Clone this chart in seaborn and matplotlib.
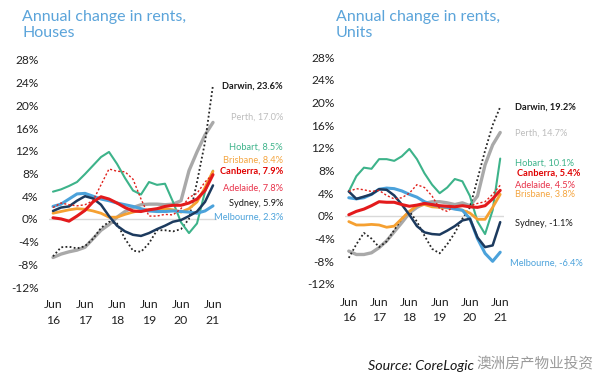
import seaborn as sns
import matplotlib.pyplot as plt
import pandas as pd

# months since Jun 2016, quarterly readings
months = list(range(0, 61, 3))
tick_months = [0, 12, 24, 36, 48, 60]
tick_labels = ['Jun\n16', 'Jun\n17', 'Jun\n18', 'Jun\n19', 'Jun\n20', 'Jun\n21']
y_ticks = list(range(-12, 29, 4))

# Houses, annual change in rents (%)
houses = {
    'Darwin':    [-6.6, -5.0, -4.9, -5.2, -4.8, -3.5, -1.6, -0.5, -0.8, -3.5, -5.6,
                  -5.8, -4.3, -2.0, -2.0, -2.2, -1.8, 0.0, 6.5, 13.5, 23.6],
    'Perth':     [-6.8, -6.2, -5.8, -5.5, -5.0, -3.5, -2.0, -1.0, 0.3, 1.3, 2.0,
                  2.5, 2.6, 2.6, 2.5, 2.6, 3.2, 8.5, 11.8, 14.8, 17.0],
    'Hobart':    [4.8, 5.2, 5.8, 6.5, 7.9, 9.4, 10.9, 11.8, 9.7, 7.2, 5.0,
                  4.3, 6.5, 6.0, 6.2, 3.0, -0.6, -2.5, -0.8, 4.8, 8.5],
    'Brisbane':  [1.0, 1.3, 1.6, 1.8, 1.7, 1.4, 1.0, 0.3, 0.3, 0.8, 1.2,
                  1.5, 1.6, 1.7, 1.8, 1.6, 1.2, 1.8, 3.0, 5.5, 8.4],
    'Canberra':  [2.0, 2.8, 2.5, 2.3, 2.5, 3.2, 6.0, 8.8, 8.4, 8.3, 7.0,
                  3.5, 0.5, 0.5, 0.8, 0.7, 1.8, 3.8, 4.5, 6.5, 7.9],
    'Adelaide':  [0.2, 0.0, -0.4, 0.5, 1.5, 3.0, 3.9, 3.5, 2.8, 2.0, 1.4,
                  1.3, 1.6, 1.8, 2.2, 2.4, 2.4, 2.8, 3.5, 5.0, 7.8],
    'Sydney':    [1.4, 2.0, 2.2, 3.2, 4.0, 3.6, 2.5, 0.5, -1.2, -2.2, -2.8,
                  -3.0, -2.5, -1.8, -1.2, -0.5, -0.2, 0.5, 1.3, 3.0, 5.9],
    'Melbourne': [2.2, 2.6, 3.5, 4.4, 4.5, 4.0, 3.5, 3.2, 2.8, 2.5, 2.2,
                  1.8, 1.4, 1.3, 1.3, 1.4, 1.3, 1.2, 1.0, 1.4, 2.3],
}

# Units, annual change in rents (%)
units = {
    'Darwin':    [-7.4, -5.0, -3.0, -4.0, -5.5, -4.5, -2.5, -0.5, 0.8, -1.0, -3.5,
                  -5.8, -6.6, -5.0, -3.0, -0.5, 1.5, 6.5, 11.5, 16.0, 19.2],
    'Perth':     [-6.2, -6.8, -6.8, -6.5, -5.6, -4.4, -2.8, -1.2, 0.5, 1.5, 2.2,
                  2.5, 2.5, 2.3, 2.0, 2.3, 1.8, 3.5, 9.0, 12.5, 14.7],
    'Hobart':    [4.3, 7.0, 8.5, 8.3, 10.0, 10.0, 9.7, 10.5, 11.8, 10.0, 7.5,
                  5.5, 4.0, 5.0, 6.5, 6.1, 3.5, -1.0, -3.2, 1.0, 10.1],
    'Brisbane':  [-1.0, -1.6, -1.6, -1.5, -1.6, -2.0, -1.8, -0.5, 0.8, 1.8, 2.0,
                  1.6, 1.5, 1.4, 1.3, 1.0, 0.5, -0.6, -0.6, 1.5, 3.8],
    'Canberra':  [4.3, 4.8, 4.6, 4.3, 4.5, 3.6, 3.0, 3.2, 4.0, 5.5, 5.0,
                  3.5, 1.3, 0.8, 1.8, 1.7, 1.8, 2.2, 2.5, 3.8, 5.4],
    'Adelaide':  [0.2, 0.8, 1.2, 1.8, 2.5, 2.4, 2.4, 2.0, 1.7, 1.9, 2.2,
                  2.0, 1.8, 1.7, 1.6, 1.8, 1.6, 1.5, 1.8, 3.0, 4.5],
    'Sydney':    [4.3, 3.0, 3.4, 3.8, 4.7, 4.6, 3.6, 2.0, 0.2, -1.8, -2.9,
                  -3.2, -3.3, -2.6, -1.8, -0.8, -0.5, -3.8, -5.5, -5.2, -1.1],
    'Melbourne': [3.2, 3.0, 3.2, 3.8, 4.7, 4.9, 4.8, 4.4, 3.8, 3.3, 2.5,
                  2.0, 1.7, 1.5, 1.2, 1.0, -0.5, -4.0, -6.6, -8.0, -6.4],
}

draw_order = ['Perth', 'Darwin', 'Hobart', 'Brisbane', 'Melbourne', 'Sydney', 'Adelaide', 'Canberra']
styles = {
    'Darwin':    dict(color='#262626', lw=1.3, ls=(0, (1, 1.3))),
    'Perth':     dict(color='#A9A9A9', lw=2.4, ls='-'),
    'Hobart':    dict(color='#3DB38A', lw=1.5, ls='-'),
    'Brisbane':  dict(color='#F5A031', lw=2.0, ls='-'),
    'Canberra':  dict(color='#E0201B', lw=1.0, ls=(0, (1.5, 1.5))),
    'Adelaide':  dict(color='#E31A1C', lw=2.2, ls='-'),
    'Sydney':    dict(color='#1C3A5E', lw=1.8, ls='-'),
    'Melbourne': dict(color='#4BA2DB', lw=2.2, ls='-'),
}
label_colors = {
    'Darwin': '#1a1a1a', 'Perth': '#BDBDBD', 'Hobart': '#3DB38A', 'Brisbane': '#F4A540',
    'Canberra': '#E00000', 'Adelaide': '#E8324A', 'Sydney': '#1a1a1a', 'Melbourne': '#4BA2DB',
}

sns.set_theme(style='white')
plt.rcParams['font.family'] = ['Lato', 'Noto Sans CJK SC', 'DejaVu Sans']

W, H = 615, 392
fig = plt.figure(figsize=(W / 100, H / 100), dpi=100)


def fx(x):
    return x / W


def fy(y):
    return 1 - y / H


def draw_panel(rect, data):
    ax = fig.add_axes(rect)
    ax.axhline(0, color='#D9D9D9', lw=1.0, zorder=0)
    for city in draw_order:
        st = styles[city]
        sns.lineplot(x=months, y=data[city], ax=ax, color=st['color'],
                     linewidth=st['lw'], linestyle=st['ls'])
    ax.set_xlim(-1.5, 61.5)
    ax.set_ylim(-12, 28)
    ax.set_xticks(tick_months)
    ax.set_xticklabels(tick_labels, fontsize=8.8, color='#222222', linespacing=1.45)
    ax.set_yticks(y_ticks)
    ax.set_yticklabels([f'{v}%' for v in y_ticks], fontsize=8.6, color='#222222')
    ax.tick_params(axis='both', length=0)
    ax.tick_params(axis='y', pad=7.5)
    ax.tick_params(axis='x', pad=9)
    ax.set_xlabel('')
    ax.set_ylabel('')
    sns.despine(ax=ax, left=True, bottom=True)
    ax.patch.set_alpha(0)
    return ax


# left panel (Houses)
draw_panel([fx(49), fy(287), fx(168), 227 / H], houses)
# right panel (Units)
draw_panel([fx(345), fy(284), fx(159), 227 / H], units)

title_color = '#5BA4DA'
fig.text(fx(22), fy(10), 'Annual change in rents,\nHouses', fontsize=11.5,
         color=title_color, va='top', ha='left', linespacing=1.2)
fig.text(fx(336), fy(10), 'Annual change in rents,\nUnits', fontsize=11.5,
         color=title_color, va='top', ha='left', linespacing=1.2)

# end labels
house_label_y = {'Darwin': 86, 'Perth': 117, 'Hobart': 147, 'Brisbane': 160,
                 'Canberra': 171, 'Adelaide': 188, 'Sydney': 203, 'Melbourne': 217}
for city, y in house_label_y.items():
    fig.text(fx(283), fy(y), f'{city}, {houses[city][-1]:.1f}%', fontsize=6.7,
             color=label_colors[city], ha='right', va='center',
             fontweight='bold' if city in ('Darwin', 'Canberra') else 'normal')

unit_label_pos = {'Darwin': (515, 107), 'Perth': (515, 133), 'Hobart': (515, 163),
                  'Canberra': (517, 173), 'Adelaide': (515, 185), 'Brisbane': (515, 194),
                  'Sydney': (515, 223), 'Melbourne': (510, 263)}
for city, (x, y) in unit_label_pos.items():
    fig.text(fx(x), fy(y), f'{city}, {units[city][-1]:.1f}%', fontsize=6.7,
             color=label_colors[city], ha='left', va='center',
             fontweight='bold' if city in ('Darwin', 'Canberra') else 'normal')

fig.text(fx(368), fy(366), 'Source: CoreLogic', fontsize=10.3, style='italic',
         color='#1a1a1a', ha='left', va='center')
fig.text(fx(476), fy(364), '澳洲房产物业投资', fontsize=10.5, color='#9a9a9a',
         ha='left', va='center', family=['Noto Sans CJK SC'],
         bbox=dict(boxstyle='square,pad=0.1', fc='white', ec='none', alpha=0.6))

fig.savefig('out.png', dpi=100, facecolor='white')
